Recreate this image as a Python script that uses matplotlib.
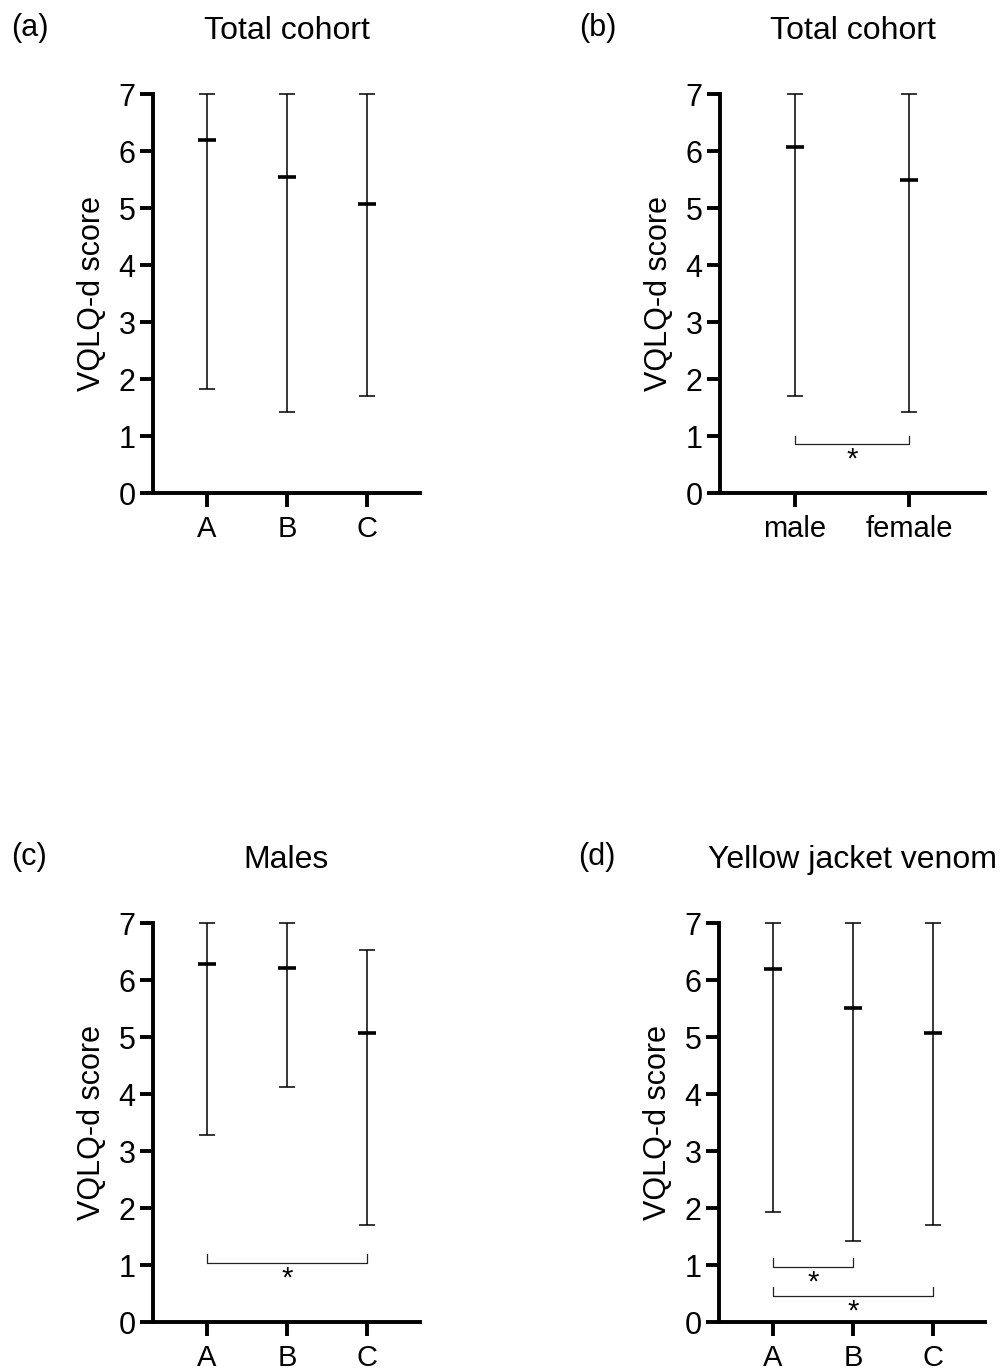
import numpy as np
import matplotlib
matplotlib.use("Agg")
import matplotlib.pyplot as plt

plt.rcParams['font.family'] = ['Liberation Sans', 'DejaVu Sans']

# median with range (min - max) per group
groups_abc = ["A", "B", "C"]
groups_sex = ["male", "female"]

a_med = [6.19, 5.55, 5.07]
a_min = [1.83, 1.43, 1.71]
a_max = [7.0, 7.0, 7.0]

b_med = [6.07, 5.50]
b_min = [1.71, 1.43]
b_max = [7.0, 7.0]

c_med = [6.28, 6.22, 5.07]
c_min = [3.28, 4.13, 1.70]
c_max = [7.0, 7.0, 6.53]

d_med = [6.19, 5.51, 5.07]
d_min = [1.93, 1.43, 1.71]
d_max = [7.0, 7.0, 7.0]

# significance brackets: (from group, to group, y of bar)
b_sig = [(0, 1, 0.86)]
c_sig = [(0, 2, 1.04)]
d_sig = [(0, 1, 0.97), (0, 2, 0.46)]

fig = plt.figure(figsize=(10, 13.7), dpi=100)


def panel(rect, letter, title, labels, med, lo, hi, sig, xlim):
    ax = fig.add_axes(rect)
    x = np.arange(len(labels))
    med = np.array(med); lo = np.array(lo); hi = np.array(hi)
    ax.errorbar(x, med, yerr=[med - lo, hi - med], fmt='none', ecolor='black',
                elinewidth=1.1, capsize=6, capthick=1.1, clip_on=False, zorder=3)
    ax.plot(x, med, ls='none', marker='_', ms=12.5, mew=2.6, color='black',
            clip_on=False, zorder=4)
    for i, j, y in sig:
        ax.plot([x[i], x[i], x[j], x[j]], [y + 0.15, y, y, y + 0.15],
                color='#222222', lw=0.9)
        ax.text((x[i] + x[j]) / 2, y - 0.28, "*", ha='center', va='center',
                fontsize=21)
    ax.set_xlim(*xlim)
    ax.set_ylim(0, 7)
    ax.set_yticks(range(8))
    ax.set_xticks(x)
    ax.set_xticklabels(labels)
    for s in ['top', 'right']:
        ax.spines[s].set_visible(False)
    for s in ['left', 'bottom']:
        ax.spines[s].set_linewidth(2.8)
    ax.tick_params(axis='y', length=9.5, width=2.8, labelsize=22, pad=3)
    ax.tick_params(axis='x', length=10, width=2.8, labelsize=21, pad=6)
    ax.set_ylabel("VQLQ-d score", fontsize=22, labelpad=8)
    ax.set_title(title, fontsize=23, pad=40)
    ax.text(-0.53, 1.165, letter, transform=ax.transAxes, fontsize=22,
            ha='left', va='center')
    return ax


panel([0.153, 0.6401, 0.267, 0.2912], "(a)", "Total cohort", groups_abc,
      a_med, a_min, a_max, [], (-0.675, 2.66))
panel([0.720, 0.6401, 0.265, 0.2912], "(b)", "Total cohort", groups_sex,
      b_med, b_min, b_max, b_sig, (-0.658, 1.667))
panel([0.153, 0.0350, 0.267, 0.2912], "(c)", "Males", groups_abc,
      c_med, c_min, c_max, c_sig, (-0.675, 2.66))
panel([0.719, 0.0350, 0.266, 0.2912], "(d)", "Yellow jacket venom", groups_abc,
      d_med, d_min, d_max, d_sig, (-0.675, 2.65))

fig.savefig("out.png", dpi=100)
